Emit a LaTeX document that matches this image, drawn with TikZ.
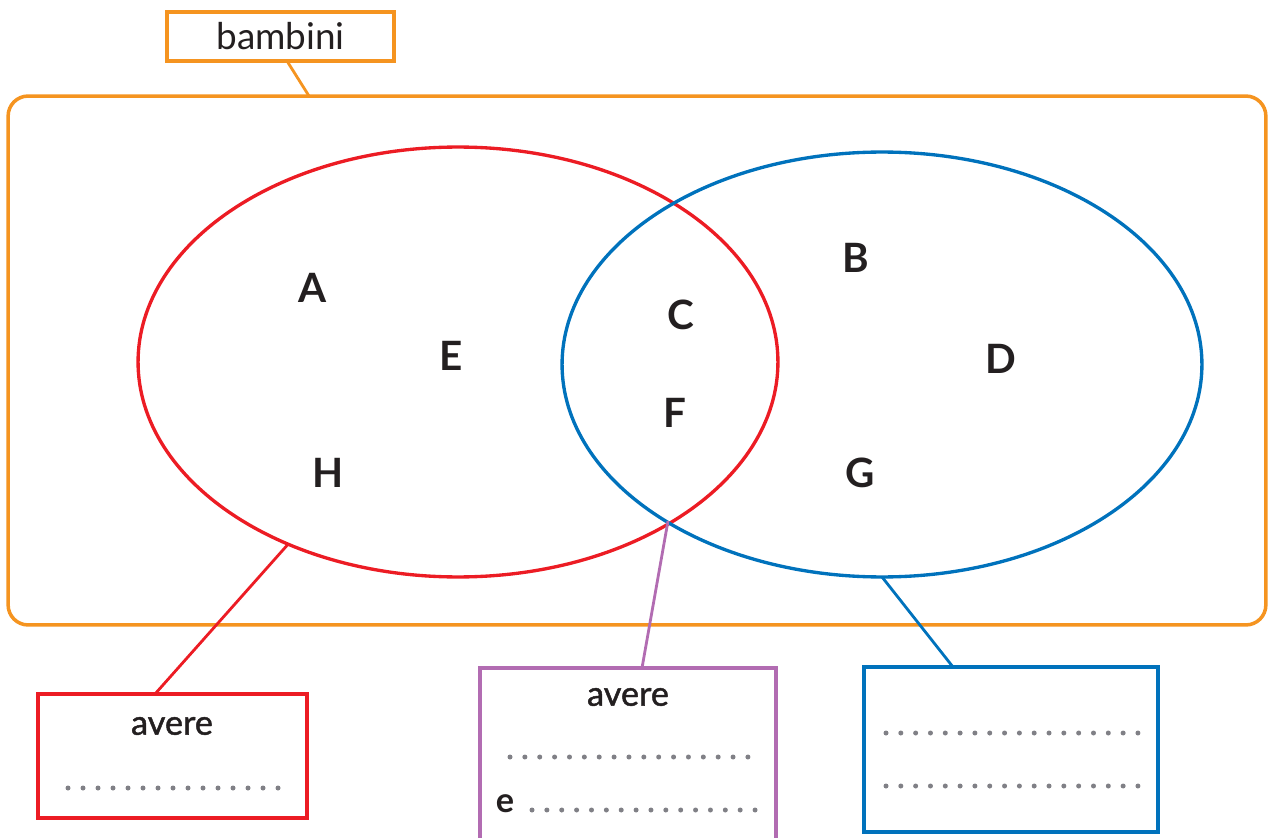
\documentclass[tikz,border=0pt]{standalone}
\usepackage{fontspec}
\setmainfont{Lato}
\newfontfamily\semib[FakeBold=1.3]{Lato}
\usetikzlibrary{shapes.geometric,calc}
\definecolor{orangeF}{RGB}{245,148,32}
\definecolor{redF}{RGB}{236,28,36}
\definecolor{blueF}{RGB}{0,114,188}
\definecolor{purpleF}{RGB}{178,108,178}
\definecolor{dotgray}{RGB}{128,128,134}
\definecolor{txt}{RGB}{35,31,32}
\tikzset{
  set/.style={ellipse, draw, line width=1.9pt, inner sep=0pt, outer sep=0pt},
  boxF/.style={rectangle, draw, line width=2pt, inner sep=0pt, outer sep=0pt},
  lab/.style={font=\fontsize{23}{23}\selectfont\bfseries, text=txt},
  word/.style={font=\fontsize{21}{21}\selectfont, text=txt},
  sword/.style={font=\fontsize{19.5}{19.5}\selectfont\semib, text=txt},
  conn/.style={line width=1.6pt},
}
\begin{document}
\begin{tikzpicture}[x=0.02cm,y=-0.02cm]
\useasboundingbox (0,0) rectangle (1269,838);
% frame
\node[boxF, draw=orangeF, rounded corners=0.4cm, minimum width=25.16cm, minimum height=10.58cm] (frame) at (637,360.5) {};
\node[boxF, draw=orangeF, minimum width=4.54cm, minimum height=0.98cm, word] (title) at (280.5,36.5) {bambini};
\coordinate (tfoot) at (287,61);
\coordinate (ftop) at (309,96);
\draw[conn, orangeF] (tfoot) -- (ftop);
% sets
\node[set, draw=redF, minimum width=12.8cm, minimum height=8.6cm] (red) at (458,362) {};
\node[set, draw=blueF, minimum width=12.8cm, minimum height=8.5cm] (blue) at (882,364.5) {};
% elements
\node[lab] (A) at (313,288) {A};
\node[lab] (E) at (451,356) {E};
\node[lab] (H) at (328,473) {H};
\node[lab] (C) at (681,315) {C};
\node[lab] (F) at (675,413) {F};
\node[lab] (B) at (856,258) {B};
\node[lab] (D) at (1001,359) {D};
\node[lab] (G) at (860,473) {G};
% boxes
\node[boxF, draw=redF, minimum width=5.38cm, minimum height=2.48cm] (rbox) at (172.5,756) {};
\node[boxF, draw=purpleF, minimum width=5.92cm, minimum height=3.84cm] (pbox) at (628,764) {};
\node[boxF, draw=blueF, minimum width=5.88cm, minimum height=3.3cm] (bbox) at (1011,749.5) {};
% connectors
\coordinate (rtop) at (155,694);
\coordinate (ptop) at (642,668);
\coordinate (btop) at (953,667);
\coordinate (inter) at (668,521);
\draw[conn, redF] (red.-133) -- (rtop);
\draw[conn, purpleF] (inter) -- (ptop);
\draw[conn, blueF] (blue.south) -- (btop);
% texts in boxes
\node[sword] (ra) at (172,726) {avere};
\node[sword] (pa) at (628,697) {avere};
\node[sword, font=\fontsize{19.5}{19.5}\selectfont\bfseries] (pe) at (505,804) {e};
% dots
\foreach \i in {0,...,14} \fill[dotgray] (68+\i*15,788) circle (2.5);
\foreach \i in {0,...,16} \fill[dotgray] (510+\i*14.87,757) circle (2.5);
\foreach \i in {0,...,15} \fill[dotgray] (532+\i*14.87,810) circle (2.5);
\foreach \i in {0,...,17} \fill[dotgray] (886+\i*14.82,733) circle (2.5);
\foreach \i in {0,...,17} \fill[dotgray] (886+\i*14.82,786) circle (2.5);
\end{tikzpicture}
\end{document}
